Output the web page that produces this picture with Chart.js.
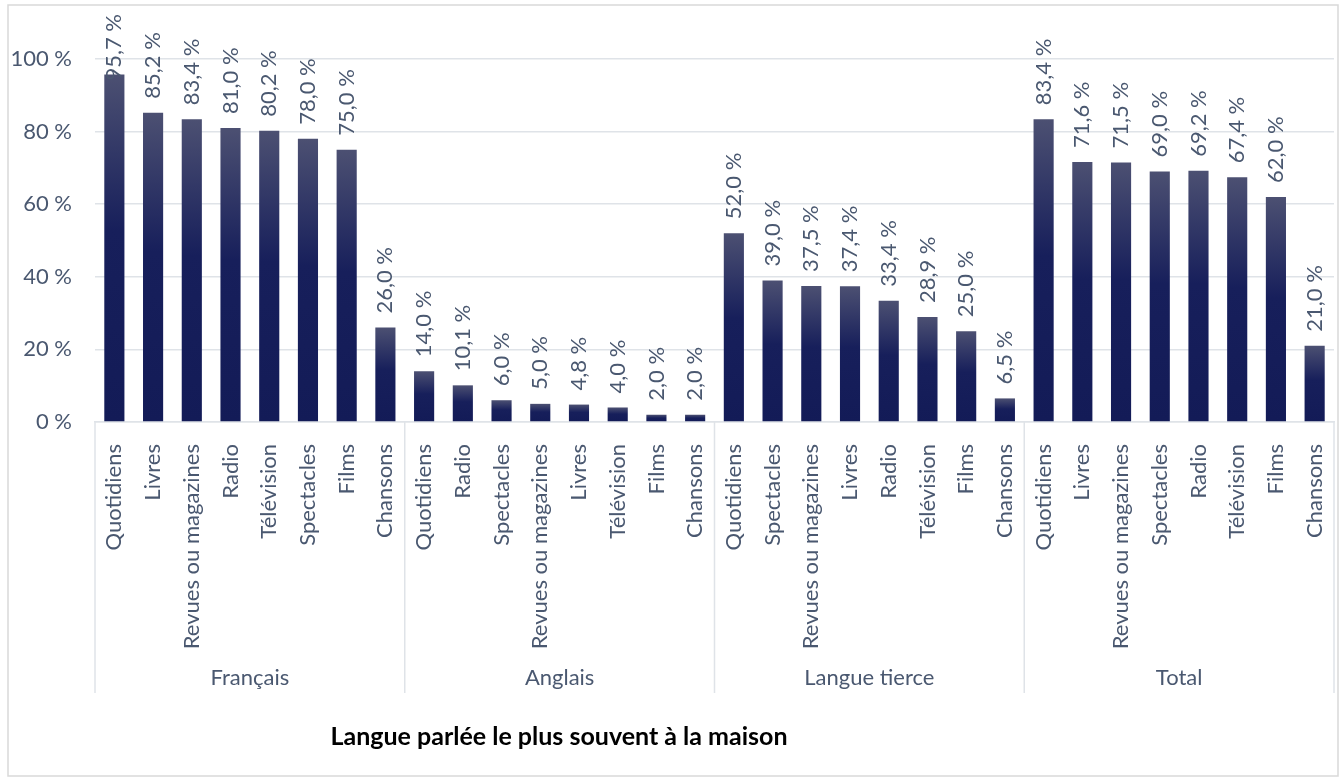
<!DOCTYPE html>
<html>
<head>
<meta charset="utf-8">
<script src="https://cdn.jsdelivr.net/npm/chart.js@4"></script>
<style>
  body { margin: 0; background: #fff; }
  #wrap { width: 1340px; height: 778px; position: relative; }
</style>
</head>
<body>
<div id="wrap"><canvas id="myChart"></canvas></div>
<script>
// donnees
const groups = ['Français', 'Anglais', 'Langue tierce', 'Total'];

const catsFr = ['Quotidiens', 'Livres', 'Revues ou magazines', 'Radio', 'Télévision', 'Spectacles', 'Films', 'Chansons'];
const valsFr = [95.7, 85.2, 83.4, 81.0, 80.2, 78.0, 75.0, 26.0];

const catsAn = ['Quotidiens', 'Radio', 'Spectacles', 'Revues ou magazines', 'Livres', 'Télévision', 'Films', 'Chansons'];
const valsAn = [14.0, 10.1, 6.0, 5.0, 4.8, 4.0, 2.0, 2.0];

const catsLt = ['Quotidiens', 'Spectacles', 'Revues ou magazines', 'Livres', 'Radio', 'Télévision', 'Films', 'Chansons'];
const valsLt = [52.0, 39.0, 37.5, 37.4, 33.4, 28.9, 25.0, 6.5];

const catsTot = ['Quotidiens', 'Livres', 'Revues ou magazines', 'Spectacles', 'Radio', 'Télévision', 'Films', 'Chansons'];
const valsTot = [83.4, 71.6, 71.5, 69.0, 69.2, 67.4, 62.0, 21.0];

const yTicks = [0, 20, 40, 60, 80, 100];
const titleText = 'Langue parlée le plus souvent à la maison';

const labels = [].concat(catsFr, catsAn, catsLt, catsTot);
const values = [].concat(valsFr, valsAn, valsLt, valsTot);
const perGroup = catsFr.length;

const FONT = 'Lato';
const TXT = '#4a5870';
const GRID = '#dfe3e8';

function fmt(v) {
    return v.toFixed(1).replace('.', ',') + ' %';
}

// degrade par barre, clair en haut, marine en bas
function barGradient(context) {
    const chart = context.chart;
    if (!chart.chartArea || context.type !== 'data') return '#161e5b';
    const y = chart.scales.y;
    const top = y.getPixelForValue(context.raw);
    const base = y.getPixelForValue(0);
    if (!isFinite(top) || base - top < 1) return '#161e5b';
    const g = chart.ctx.createLinearGradient(0, top, 0, base);
    g.addColorStop(0, '#4c5072');
    g.addColorStop(0.45, '#171f5b');
    g.addColorStop(1, '#131b57');
    return g;
}

const decor = {
    id: 'decor',
    beforeDraw(chart) {
        const {ctx} = chart;
        ctx.save();
        ctx.fillStyle = '#fff';
        ctx.fillRect(0, 0, chart.width, chart.height);
        ctx.strokeStyle = '#d9d9d9';
        ctx.lineWidth = 1.5;
        ctx.strokeRect(8, 5, 1330, 771);
        ctx.restore();
    },
    afterDatasetsDraw(chart) {
        const {ctx} = chart;
        const meta = chart.getDatasetMeta(0);
        ctx.save();
        ctx.font = '22px ' + FONT;
        ctx.fillStyle = TXT;
        ctx.textAlign = 'left';
        ctx.textBaseline = 'middle';
        meta.data.forEach((bar, i) => {
            const txt = fmt(values[i]);
            const w = ctx.measureText(txt).width;
            let start = bar.y - 14;
            if (start - w < 14) start = 14 + w;
            ctx.save();
            ctx.translate(bar.x, start);
            ctx.rotate(-Math.PI / 2);
            ctx.fillText(txt, 0, 0);
            ctx.restore();
        });
        ctx.restore();
    },
    afterDraw(chart) {
        const {ctx, chartArea} = chart;
        const x = chart.scales.x;
        const step = x.getPixelForValue(1) - x.getPixelForValue(0);
        const bottom = 693;
        ctx.save();
        ctx.strokeStyle = GRID;
        ctx.lineWidth = 1.5;
        for (let g = 0; g <= groups.length; g++) {
            const px = x.getPixelForValue(g * perGroup) - step / 2;
            ctx.beginPath();
            ctx.moveTo(px, chartArea.bottom);
            ctx.lineTo(px, bottom);
            ctx.stroke();
        }
        ctx.font = '22px ' + FONT;
        ctx.fillStyle = TXT;
        ctx.textAlign = 'center';
        ctx.textBaseline = 'middle';
        groups.forEach((name, g) => {
            const a = x.getPixelForValue(g * perGroup) - step / 2;
            const b = a + step * perGroup;
            ctx.fillText(name, (a + b) / 2, 678);
        });
        ctx.font = 'bold 25px ' + FONT;
        ctx.fillStyle = '#000';
        ctx.fillText(titleText, 559, 737);
        ctx.restore();
    }
};

const ctx = document.getElementById('myChart');

new Chart(ctx, {
    type: 'bar',
    data: {
        labels: labels,
        datasets: [{
            data: values,
            backgroundColor: barGradient,
            borderWidth: 0,
            categoryPercentage: 1,
            barPercentage: 0.52
        }]
    },
    options: {
        responsive: true,
        maintainAspectRatio: false,
        animation: false,
        layout: {
            padding: { left: 0, right: 6, top: 59, bottom: 0 }
        },
        plugins: {
            legend: { display: false },
            tooltip: { enabled: false }
        },
        scales: {
            x: {
                grid: { display: false },
                border: { display: true, color: GRID, width: 1.5 },
                ticks: {
                    autoSkip: false,
                    maxRotation: 90,
                    minRotation: 90,
                    padding: 14,
                    color: TXT,
                    font: { family: FONT, size: 22 }
                },
                afterFit(scale) {
                    scale.height = 356;
                    scale.paddingLeft = 0;
                    scale.paddingRight = 0;
                }
            },
            y: {
                min: 0,
                max: 100,
                afterBuildTicks(scale) {
                    scale.ticks = yTicks.map(v => ({ value: v }));
                },
                grid: { color: GRID, lineWidth: 1.5, drawTicks: false },
                border: { display: false },
                ticks: {
                    padding: 23,
                    color: TXT,
                    font: { family: FONT, size: 22 },
                    callback: v => v + ' %'
                },
                afterFit(scale) {
                    scale.width = 95;
                    scale.paddingTop = 0;
                    scale.paddingBottom = 0;
                }
            }
        }
    },
    plugins: [decor]
});
</script>
</body>
</html>
